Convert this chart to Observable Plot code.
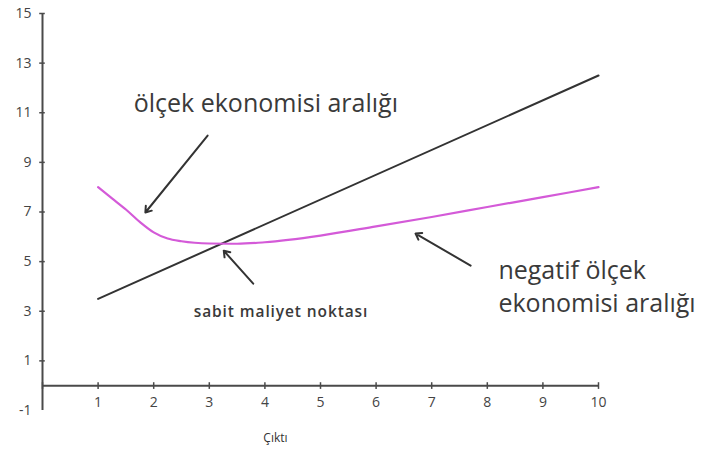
<!DOCTYPE html>
<html>
<head>
<meta charset="utf-8">
<script src="https://cdn.jsdelivr.net/npm/d3@7"></script>
<script src="https://cdn.jsdelivr.net/npm/@observablehq/plot@0.6"></script>
<style>
body { margin: 0; background: #fff; }
</style>
</head>
<body>
<div id="chart"></div>
<script>
// Data
const xTicks = [1, 2, 3, 4, 5, 6, 7, 8, 9, 10];
const yTicks = [-1, 1, 3, 5, 7, 9, 11, 13, 15];
const lineX = [1, 10];
const lineY = [3.5, 12.5];
const curveX = [1, 1.25, 1.5, 1.75, 2, 2.25, 2.5, 3, 3.5, 4, 5, 6, 7, 8, 9, 10];
const curveY = [8.0, 7.55, 7.1, 6.6, 6.18, 5.93, 5.82, 5.73, 5.72, 5.78, 6.05, 6.42, 6.8, 7.2, 7.6, 8.0];
const arrowsX1 = [2.97, 3.79, 7.70];
const arrowsY1 = [10.08, 4.11, 4.84];
const arrowsX2 = [1.85, 3.26, 6.71];
const arrowsY2 = [6.98, 5.44, 6.13];
const labels = [
  {text: "ölçek ekonomisi aralığı", x: 1.64, y: 11.37, size: 25, weight: 400},
  {text: "negatif ölçek", x: 8.2, y: 4.64, size: 25, weight: 400},
  {text: "ekonomisi aralığı", x: 8.2, y: 3.3, size: 25, weight: 400},
  {text: "sabit maliyet noktası", x: 2.72, y: 2.98, size: 15.5, weight: 600}
];
const xTitle = "Çıktı";

const lineData = lineX.map((x, i) => ({x, y: lineY[i]}));
const curveData = curveX.map((x, i) => ({x, y: curveY[i]}));
const arrowData = arrowsX1.map((x1, i) => ({x1, y1: arrowsY1[i], x2: arrowsX2[i], y2: arrowsY2[i]}));
const axisColor = "#4a4a4a";

const chart = Plot.plot({
  width: 704,
  height: 465,
  marginLeft: 42,
  marginRight: 106,
  marginTop: 13,
  marginBottom: 55,
  style: {fontFamily: "'Open Sans', sans-serif", background: "#fff"},
  x: {domain: [0, 10], axis: null},
  y: {domain: [-1, 15], axis: null},
  marks: [
    // y axis line
    Plot.ruleX([0], {y1: -1, y2: 15, stroke: axisColor, strokeWidth: 2}),
    // y ticks
    Plot.ruleY(yTicks.filter(d => d > 0), {x1: -0.05, x2: 0.05, stroke: axisColor, strokeWidth: 1.5}),
    Plot.text(yTicks, {x: 0, y: d => d, text: d => String(d), textAnchor: "end", dx: -11, fontSize: 14, fill: "#444"}),
    // x axis line
    Plot.ruleY([0], {x1: 0, x2: 10, stroke: axisColor, strokeWidth: 2}),
    Plot.ruleX([0, ...xTicks], {y1: -0.15, y2: 0.12, stroke: axisColor, strokeWidth: 1.5}),
    Plot.text(xTicks, {x: d => d, y: -0.68, text: d => String(d), fontSize: 14, fill: "#444"}),
    Plot.text([xTitle], {x: 4.19, y: -2.1, text: d => d, fontSize: 12, fill: "#333"}),
    // series
    Plot.line(lineData, {x: "x", y: "y", stroke: "#333", strokeWidth: 2}),
    Plot.line(curveData, {x: "x", y: "y", curve: "monotone-x", stroke: "#d45ad8", strokeWidth: 2.2}),
    // annotations
    Plot.arrow(arrowData, {x1: "x1", y1: "y1", x2: "x2", y2: "y2", stroke: "#333", strokeWidth: 2, headLength: 5, headAngle: 70}),
    Plot.text(labels.slice(0, 3), {x: "x", y: "y", text: "text", fontSize: 25, textAnchor: "start", fill: "#3a3a3a"}),
    Plot.text(labels.slice(3), {x: "x", y: "y", text: "text", fontSize: 15.5, fontWeight: 600, textAnchor: "start", fill: "#3a3a3a"})
  ]
});
d3.select(chart).selectAll("text").filter(function() { return this.textContent === "sabit maliyet noktası"; })
  .attr("letter-spacing", "0.9px");
document.getElementById("chart").appendChild(chart);
</script>
</body>
</html>
